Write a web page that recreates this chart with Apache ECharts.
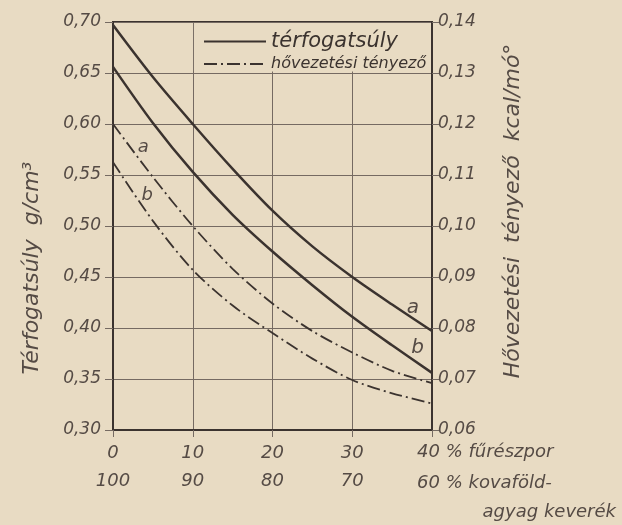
<!DOCTYPE html>
<html>
<head>
<meta charset="utf-8">
<script src="https://cdn.jsdelivr.net/npm/echarts@6/dist/echarts.min.js"></script>
<style>
html,body{margin:0;padding:0;background:#e8dbc3;}
#c{width:622px;height:525px;}
</style>
</head>
<body>
<div id="c"></div>
<script>
// ---- data ----
const xVals = [0, 5, 10, 15, 20, 25, 30, 35, 40];
// Térfogatsúly g/cm3 (left axis), solid
const densA = [0.697, 0.646, 0.600, 0.556, 0.515, 0.480, 0.450, 0.423, 0.397];
const densB = [0.656, 0.601, 0.553, 0.511, 0.475, 0.442, 0.411, 0.383, 0.356];
// Hővezetési tényező kcal/mó° (right axis), dash-dot
const condA = [0.1200, 0.1096, 0.1000, 0.0916, 0.0848, 0.0794, 0.0752, 0.0716, 0.0692];
const condB = [0.1125, 0.1010, 0.0914, 0.0844, 0.0790, 0.0740, 0.0698, 0.0672, 0.0652];
const leftTickLabels = ['0,30', '0,35', '0,40', '0,45', '0,50', '0,55', '0,60', '0,65', '0,70'];
const rightTickLabels = ['0,06', '0,07', '0,08', '0,09', '0,10', '0,11', '0,12', '0,13', '0,14'];
const xRow1 = ['0', '10', '20', '30', '40 % fűrészpor'];
const xRow2 = ['100', '90', '80', '70', '60 % kovaföld-'];
const xRow3 = 'agyag keverék';
const legendNames = ['térfogatsúly', 'hővezetési tényező'];

const ink = '#3b332f';
const txt = '#554b45';
const grid = '#756a62';
const FONT = 'DejaVu Sans';

const chart = echarts.init(document.getElementById('c'), null, {renderer: 'canvas'});
const pairs = arr => xVals.map((x, i) => [x, arr[i]]);
const dashDot = [13, 4, 2, 4];

const option = {
  backgroundColor: '#e8dbc3',
  animation: false,
  grid: {left: 113, right: 190, top: 22, bottom: 95, show: true, borderColor: ink, borderWidth: 2},
  legend: {
    data: legendNames,
    orient: 'vertical',
    left: 198, top: 26,
    itemWidth: 62, itemHeight: 14, itemGap: 4,
    z: 20,
    itemStyle: {opacity: 0},
    formatter: n => n === legendNames[0] ? '{a|' + n + '}' : '{b|' + n + '}',
    textStyle: {
      color: ink, fontFamily: FONT, fontStyle: 'italic',
      rich: {
        a: {fontSize: 21, fontFamily: FONT, fontStyle: 'italic', color: ink},
        b: {fontSize: 16, fontFamily: FONT, fontStyle: 'italic', color: ink}
      }
    }
  },
  xAxis: {
    type: 'value', min: 0, max: 40, interval: 10,
    axisLine: {show: true, lineStyle: {color: ink, width: 2}},
    axisTick: {show: true, length: 7, lineStyle: {color: grid, width: 1}},
    splitLine: {show: true, lineStyle: {color: grid, width: 1}},
    axisLabel: {
      margin: 7,
      formatter: (v) => {
        const i = Math.round(v / 10);
        if (i >= 4) return '';
        return '{a|' + xRow1[i] + '}\n{b|' + xRow2[i] + '}';
      },
      rich: {
        a: {fontSize: 18, fontFamily: FONT, fontStyle: 'italic', color: txt, lineHeight: 32},
        b: {fontSize: 18, fontFamily: FONT, fontStyle: 'italic', color: txt, lineHeight: 24}
      }
    }
  },
  yAxis: [
    {
      type: 'value', min: 0.30, max: 0.70, interval: 0.05, position: 'left',
      name: 'Térfogatsúly  g/cm³', nameLocation: 'middle', nameRotate: 90, nameGap: 70,
      nameTextStyle: {fontSize: 22, fontFamily: FONT, fontStyle: 'italic', color: txt, padding: [0, 84, 0, 0]},
      axisLine: {show: true, lineStyle: {color: ink, width: 2}},
      axisTick: {show: true, length: 8, lineStyle: {color: grid, width: 1}},
      splitLine: {show: true, lineStyle: {color: grid, width: 1}},
      axisLabel: {
        margin: 12, fontSize: 17, fontFamily: FONT, fontStyle: 'italic', color: txt,
        formatter: v => leftTickLabels[Math.round((v - 0.30) / 0.05)]
      }
    },
    {
      type: 'value', min: 0.06, max: 0.14, interval: 0.01, position: 'right',
      name: 'Hővezetési  tényező  kcal/mó°', nameLocation: 'middle', nameRotate: 90, nameGap: 70,
      nameTextStyle: {fontSize: 22, fontFamily: FONT, fontStyle: 'italic', color: txt, padding: [0, 0, 0, 30]},
      axisLine: {show: true, lineStyle: {color: ink, width: 2}},
      axisTick: {show: true, length: 8, lineStyle: {color: grid, width: 1}},
      splitLine: {show: false},
      axisLabel: {
        margin: 6, fontSize: 17, fontFamily: FONT, fontStyle: 'italic', color: txt,
        formatter: v => rightTickLabels[Math.round((v - 0.06) / 0.01)]
      }
    }
  ],
  series: [
    {
      name: legendNames[0], type: 'line', yAxisIndex: 0, data: pairs(densA),
      smooth: 0.3, symbol: 'none', lineStyle: {color: ink, width: 2.5},
      itemStyle: {color: ink},
      markArea: {
        silent: true,
        itemStyle: {color: '#e8dbc3'},
        data: [[{coord: [10.15, 0.699]}, {coord: [39.85, 0.6515]}]]
      },
      markPoint: {
        symbol: 'circle', symbolSize: 0,
        label: {show: true, formatter: 'a', fontSize: 20, fontFamily: FONT, fontStyle: 'italic', color: txt},
        data: [{coord: [37.6, 0.420]}]
      }
    },
    {
      name: legendNames[0], type: 'line', yAxisIndex: 0, data: pairs(densB),
      smooth: 0.3, symbol: 'none', lineStyle: {color: ink, width: 2.5},
      itemStyle: {color: ink},
      markPoint: {
        symbol: 'circle', symbolSize: 0,
        label: {show: true, formatter: 'b', fontSize: 20, fontFamily: FONT, fontStyle: 'italic', color: txt},
        data: [{coord: [38.2, 0.381]}]
      }
    },
    {
      name: legendNames[1], type: 'line', yAxisIndex: 1, data: pairs(condA),
      smooth: 0.3, symbol: 'none', lineStyle: {color: ink, width: 1.8, type: dashDot},
      itemStyle: {color: ink},
      markPoint: {
        symbol: 'circle', symbolSize: 0,
        label: {show: true, formatter: 'a', fontSize: 18, fontFamily: FONT, fontStyle: 'italic', color: txt},
        data: [{coord: [3.8, 0.1154]}]
      }
    },
    {
      name: legendNames[1], type: 'line', yAxisIndex: 1, data: pairs(condB),
      smooth: 0.3, symbol: 'none', lineStyle: {color: ink, width: 1.8, type: dashDot},
      itemStyle: {color: ink},
      markPoint: {
        symbol: 'circle', symbolSize: 0,
        label: {show: true, formatter: 'b', fontSize: 18, fontFamily: FONT, fontStyle: 'italic', color: txt},
        data: [{coord: [4.3, 0.1060]}]
      }
    }
  ],
  graphic: [
    {type: 'text', left: 417, top: 443, style: {text: xRow1[4], font: 'italic 18px "DejaVu Sans"', fill: txt}},
    {type: 'text', left: 417, top: 474, style: {text: xRow2[4], font: 'italic 18px "DejaVu Sans"', fill: txt}},
    {type: 'text', right: 6, top: 503, style: {text: xRow3, font: 'italic 18px "DejaVu Sans"', fill: txt}}
  ]
};
chart.setOption(option);
</script>
</body>
</html>
